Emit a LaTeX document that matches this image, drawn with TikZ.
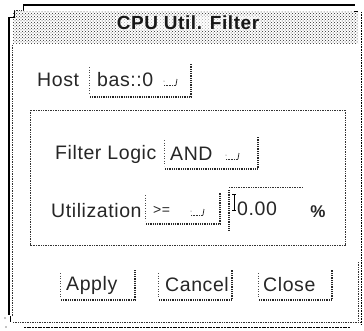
\documentclass[tikz,border=0pt]{standalone}
\usepackage{fontspec}
\setmainfont{Liberation Sans}[LetterSpace=3]
\usetikzlibrary{patterns}
\tikzset{
  light/.style={line width=0.8pt, dash pattern=on 0.8pt off 1.8pt, black!70},
  dark/.style={line width=1.1pt, dash pattern=on 1pt off 0.8pt, black!85},
  lbl/.style={inner sep=0pt, font=\fontsize{19.5}{22}\selectfont, text=black!85},
  frame/.style={line width=0.8pt, dash pattern=on 0.8pt off 0.9pt, black!80},
}
% shadowed box: sparse left edge, dense bottom and right edges
\newcommand{\shbox}[4]{%
  \draw[light] (#1,#2+3) -- (#1,#4-3);
  \draw[dark] (#1+1,#4) -- (#3,#4) -- (#3,#2);
}
% option menu indicator, anchored at its lower left corner
\newcommand{\omind}[2]{%
  \draw[line width=0.8pt, dash pattern=on 0.8pt off 0.8pt, black!80] (#1,#2) -- (#1+12,#2);
  \draw[line width=0.8pt, black!80] (#1+12,#2) -- (#1+13,#2-6);
  \fill[black!70] (#1,#2-4) circle (0.5);
}
\begin{document}
\begin{tikzpicture}[x=1pt,y=-1pt]
\useasboundingbox (0,0) rectangle (364,330);
% window edges
\fill[pattern=crosshatch dots, pattern color=black!85] (13,11) -- (358,11) -- (358,43) -- (13,43) -- cycle;
\draw[line width=2pt] (23,5) -- (355,5);
\draw[line width=1pt] (23,5) -- (23,10);
\draw[frame] (14,10) -- (23,10);
\draw[line width=1pt] (14,11) -- (14,17) -- (9,17);
\draw[line width=2.2pt] (9,17) -- (9,315);
\draw[frame] (12.5,45) -- (12.5,316);
\draw[line width=1pt] (354,11) -- (358,11);
\draw[line width=1.3pt, dash pattern=on 1pt off 0.6pt] (361.5,12) -- (361.5,325);
\draw[frame] (358,262) -- (358,321);
\draw[frame] (13,322) -- (360,322);
\draw[line width=1.5pt, dash pattern=on 2pt off 0.7pt] (24,327.5) -- (350,327.5);
\draw[line width=1pt] (10,316) -- (10,322);
\fill (5,318) circle (0.6);
\fill (6,327) circle (0.6);
% title, lightened behind its letters
\node[lbl, font=\fontsize{19}{22}\selectfont\bfseries, text=black!90,
  fill=white, fill opacity=0.6, text opacity=1, inner xsep=1pt, inner ysep=0.5pt] (title) at (188,23) {CPU Util. Filter};
% host row
\node[lbl, anchor=west] (host) at (37,80) {Host};
\shbox{89}{64}{191}{97}
\node[lbl, anchor=west] (hostval) at (97,80) {bas::0};
\omind{164}{85}
% inner group frame
\draw[frame] (30,110) rectangle (345.5,245);
% filter logic row
\node[lbl, anchor=west] (fl) at (55,154) {Filter Logic};
\shbox{164}{137}{258}{169}
\node[lbl, anchor=west] (flval) at (170,154) {AND};
\omind{226}{159}
% utilization row
\node[lbl, anchor=west] (ut) at (51,211) {Utilization};
\shbox{145}{192}{220}{224}
\node[lbl, anchor=west, font=\fontsize{14}{16}\selectfont] (utop) at (153,210) {>=};
\omind{191}{215}
% value field
\draw[frame] (229,187.5) -- (303,187.5);
\draw[dark] (229,190) -- (229,230);
\draw[line width=0.6pt] (232,194) -- (236,194) (234,194) -- (234,210) (232,210) -- (236,210);
\node[lbl, anchor=west] (utval) at (237,209) {0.00};
\node[lbl, font=\fontsize{17}{20}\selectfont\bfseries] (pct) at (318,212) {\%};
% buttons
\shbox{60}{270}{135}{300}
\node[lbl, anchor=west] (apply) at (66,285) {Apply};
\shbox{158}{270}{232}{300}
\node[lbl, anchor=west] (cancel) at (165,285) {Cancel};
\shbox{258}{270}{332}{300}
\node[lbl, anchor=west] (close) at (263,285) {Close};
\end{tikzpicture}
\end{document}
